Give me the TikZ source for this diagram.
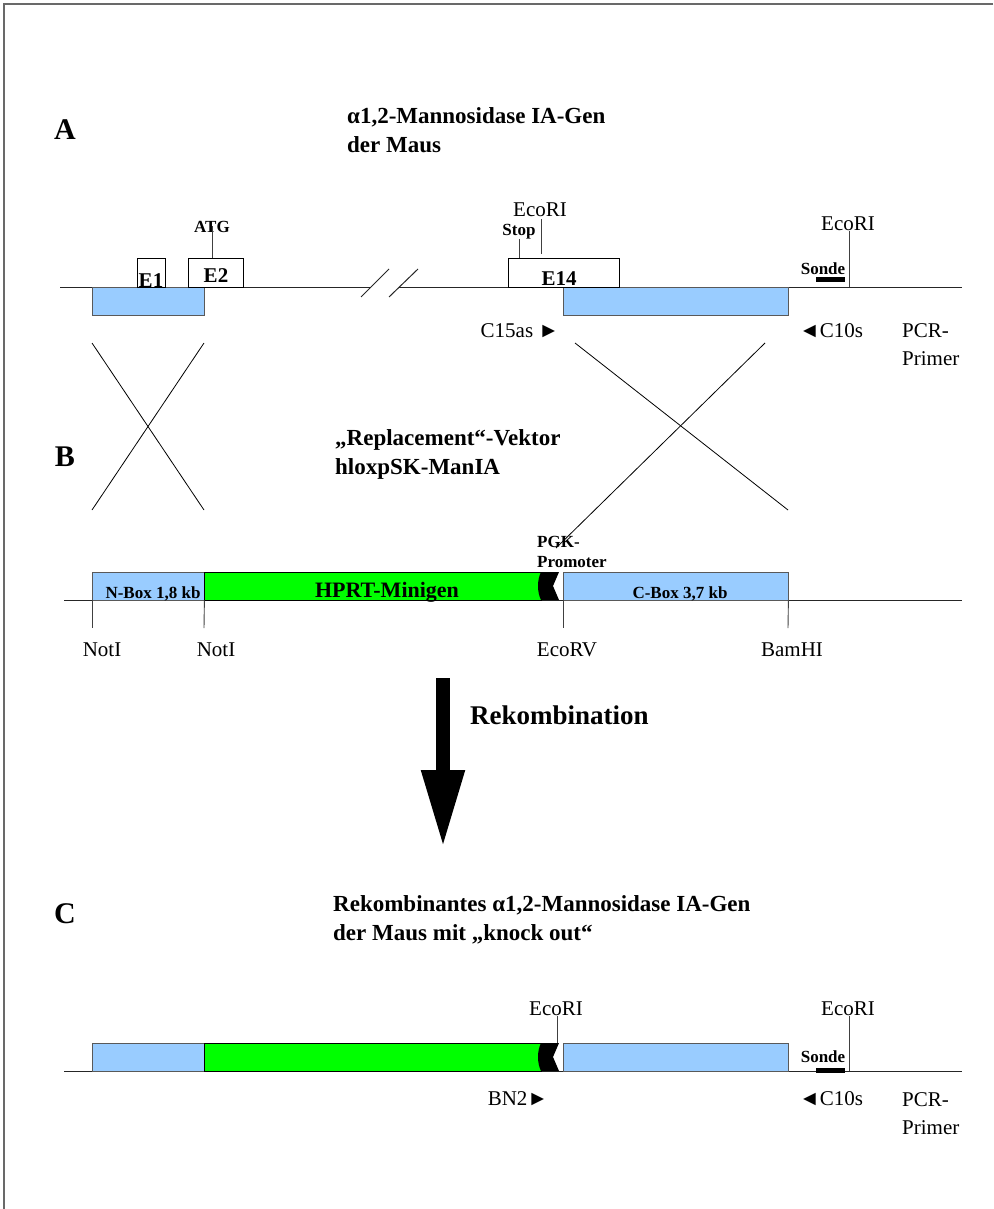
\documentclass[tikz,border=0pt]{standalone}
\usepackage{fontspec}
\setmainfont{Liberation Serif}
\usetikzlibrary{arrows.meta, positioning, calc}
\definecolor{armblue}{RGB}{153,204,255}
\definecolor{hprtgreen}{RGB}{0,255,0}
\definecolor{framegray}{RGB}{105,105,105}

\begin{document}
\begin{tikzpicture}[x=1pt, y=-1pt,
    site/.style={font=\fontsize{21}{28}\selectfont, inner sep=0pt},
    tag/.style={font=\bfseries\fontsize{17}{21}\selectfont, inner sep=0pt},
    exlab/.style={font=\bfseries\fontsize{21}{25}\selectfont, inner sep=0pt},
    headline/.style={font=\bfseries\fontsize{23}{29}\selectfont, inner sep=0pt, align=left, anchor=base west},
    part/.style={font=\bfseries\fontsize{30}{36}\selectfont, inner sep=0pt, anchor=base},
    exon/.style={draw=black, fill=white, inner sep=0pt, anchor=north west, minimum height=29},
    arm/.style={draw=black!65, fill=armblue, inner sep=0pt, anchor=north west, minimum height=28},
    hprt/.style={draw=black, fill=hprtgreen, inner sep=0pt, anchor=north west, minimum height=28},
    probe/.style={fill=black, inner sep=0pt, minimum width=29, minimum height=5},
    dna/.style={black!85, line width=1pt},
    tick/.style={black!75, line width=0.9pt},
    cross/.style={black, line width=0.8pt}]
    \useasboundingbox (0,0) rectangle (993,1209);

    % Rahmen
    \draw[framegray, line width=1.2pt] (993,4) -- (4,4) -- (4,1209);

    % ---------- A: Gen der Maus ----------
    \node[part] (partA) at (65,140) {A};
    \node[headline] (titleA) at (347,153) {α1,2-Mannosidase IA-Gen\\der Maus};

    \coordinate (dnaA0) at (60,287); \coordinate (brkL) at (371,287);
    \coordinate (brkR) at (399,287); \coordinate (dnaA1) at (962,287);
    \draw[dna] (dnaA0) -- (brkL); \draw[dna] (brkR) -- (dnaA1);
    \draw[dna] (361,297) -- (389,269); \draw[dna] (389,297) -- (418,269);

    \node[arm, minimum width=112] (armAL) at (92,287) {};
    \node[arm, minimum width=225] (armAR) at (563,287) {};
    \node[exon, minimum width=28] (ex1) at (137,258) {};
    \node[exon, minimum width=55] (ex2) at (188,258) {};
    \node[exon, minimum width=111] (ex14) at (508,258) {};
    \node[probe] (probeA) at (830.5,279.5) {};

    \node[tag, anchor=base] (atg) at (212,232) {ATG};
    \node[exlab, anchor=base] (e1) at (151,287) {E1};
    \node[exlab, anchor=base] (e2) at (216,282) {E2};
    \node[exlab, anchor=base] (e14) at (559,285) {E14};
    \node[tag, anchor=base] (stop) at (519,235) {Stop};
    \node[site, anchor=base] (ecoA1) at (540,216) {EcoRI};
    \node[site, anchor=base] (ecoA2) at (848,230) {EcoRI};
    \node[tag, anchor=base] (sondeA) at (823,274) {Sonde};
    \node[site, anchor=base] (c15) at (520,337) {C15as ►};
    \node[site, anchor=base] (c10A) at (831,337) {◄C10s};
    \node[site, anchor=base west, align=left] (pcrA) at (902,365) {PCR-\\Primer};

    \coordinate (ecoA1end) at (541,254); \coordinate (ecoA1top) at (541,219);
    \coordinate (ecoA2top) at (849,231);
    \draw[tick] (atg.center) -- (atg.center |- ex2.north);
    \draw[tick] (stop.south) -- (stop.south |- ex14.north);
    \draw[tick] (ecoA1top) -- (ecoA1end);
    \draw[tick] (ecoA2top) -- (ecoA2top |- dnaA1);

    % Crossing-over
    \coordinate (xl1) at (92,343); \coordinate (xl2) at (204,343);
    \coordinate (xl3) at (92,510); \coordinate (xl4) at (204,510);
    \coordinate (xr1) at (575,343); \coordinate (xr2) at (765,343);
    \coordinate (xr3) at (788,510); \coordinate (xr4) at (556,548);
    \draw[cross] (xl1) -- (xl4); \draw[cross] (xl2) -- (xl3);
    \draw[cross] (xr1) -- (xr3); \draw[cross] (xr2) -- (xr4);

    % ---------- B: Vektor ----------
    \node[part] (partB) at (65,466) {B};
    \node[headline] (titleB) at (335,474) {„Replacement“-Vektor\\hloxpSK-ManIA};

    \coordinate (dnaB0) at (64,600); \coordinate (dnaB1) at (962,600);
    \draw[dna] (dnaB0) -- (dnaB1);
    \node[arm, minimum width=112] (nbox) at (92,572) {};
    \node[hprt, minimum width=337] (hprtB) at (204,572) {};
    \node[arm, minimum width=225] (cbox) at (563,572) {};
    \fill (541,572) .. controls (537,580) and (537,592) .. (541,600) -- (559,600) -- (553,586) -- (559,572) -- cycle;

    \node[tag, anchor=base] (nlab) at (153,598) {N-Box 1,8 kb};
    \node[exlab, font=\bfseries\fontsize{22}{26}\selectfont, anchor=base] (hlab) at (387,597) {HPRT-Minigen};
    \node[tag, anchor=base] (clab) at (680,598) {C-Box 3,7 kb};
    \node[tag, anchor=base west, align=left, font=\bfseries\fontsize{17}{20}\selectfont] (pgk) at (537,567) {PGK-\\Promoter};

    \node[site, anchor=base] (not1) at (102,656) {NotI};
    \node[site, anchor=base] (not2) at (216,656) {NotI};
    \node[site, anchor=base] (ecorv) at (567,656) {EcoRV};
    \node[site, anchor=base] (bam) at (792,656) {BamHI};
    \coordinate (tk1) at (92,628); \coordinate (tk2) at (204,628);
    \coordinate (tk3) at (563,628); \coordinate (tk4) at (788,628);
    \draw[tick] (nbox.south west) -- (tk1);
    \draw[tick] (nbox.south east) -- (tk2);
    \draw[tick] (cbox.south west) -- (tk3);
    \draw[tick] (cbox.south east) -- (tk4);

    % Rekombination
    \coordinate (rekTop) at (443,678); \coordinate (rekTip) at (443,848);
    \draw[line width=14pt, -{Triangle[width=40pt,length=78pt]}] (rekTop) -- (rekTip);
    \node[font=\bfseries\fontsize{27}{32}\selectfont, inner sep=0pt, anchor=base west] (rek) at (470,724) {Rekombination};

    % ---------- C: rekombinantes Gen ----------
    \node[part] (partC) at (65,923) {C};
    \node[headline] (titleC) at (333,940) {Rekombinantes α1,2-Mannosidase IA-Gen\\der Maus mit „knock out“};

    \coordinate (dnaC0) at (64,1071); \coordinate (dnaC1) at (962,1071);
    \draw[dna] (dnaC0) -- (dnaC1);
    \node[arm, minimum width=112] (nboxC) at (92,1043) {};
    \node[hprt, minimum width=337] (hprtC) at (204,1043) {};
    \node[arm, minimum width=225] (cboxC) at (563,1043) {};
    \fill (541,1043) .. controls (537,1051) and (537,1063) .. (541,1071) -- (559,1071) -- (553,1057) -- (559,1043) -- cycle;
    \node[probe] (probeC) at (830.5,1070) {};

    \node[site, anchor=base] (ecoC1) at (556,1015) {EcoRI};
    \node[site, anchor=base] (ecoC2) at (848,1015) {EcoRI};
    \node[tag, anchor=base] (sondeC) at (823,1062) {Sonde};
    \node[site, anchor=base] (bn2) at (518,1105) {BN2►};
    \node[site, anchor=base] (c10C) at (831,1105) {◄C10s};
    \node[site, anchor=base west, align=left] (pcrC) at (902,1134) {PCR-\\Primer};

    \coordinate (ecoC1top) at (557,1016); \coordinate (ecoC2top) at (849,1016);
    \draw[tick] (ecoC1top) -- (ecoC1top |- cboxC.north);
    \draw[tick] (ecoC2top) -- (ecoC2top |- dnaC1);
\end{tikzpicture}
\end{document}
